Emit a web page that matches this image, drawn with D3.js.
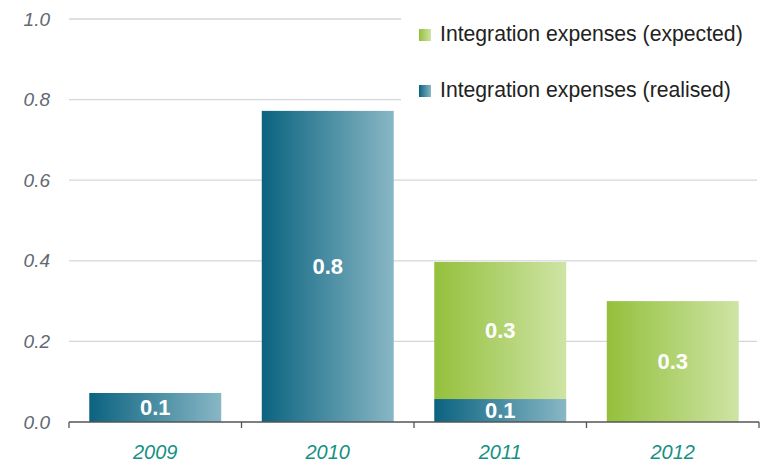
<!DOCTYPE html>
<html><head><meta charset="utf-8">
<script src="https://cdn.jsdelivr.net/npm/d3@7"></script>
<style>body{margin:0;background:#fff}svg{display:block}</style>
</head><body>
<svg id="c" width="762" height="462"></svg>
<script>
const years = ["2009", "2010", "2011", "2012"];
const realised = [0.072, 0.772, 0.057, 0];
const expected = [0, 0, 0.34, 0.30];
const realisedLabels = ["0.1", "0.8", "0.1", ""];
const expectedLabels = ["", "", "0.3", "0.3"];
const yTicks = [0, 0.2, 0.4, 0.6, 0.8, 1.0];
const seriesNames = ["Integration expenses (expected)", "Integration expenses (realised)"];

const svg = d3.select("#c");
const x = d3.scaleBand().domain(years).range([69, 759]).paddingInner(0.235).paddingOuter(0.1175);
const y = d3.scaleLinear().domain([0, 1]).range([422, 19]);

const defs = svg.append("defs");
function grad(id, c0, c1) {
  const g = defs.append("linearGradient").attr("id", id).attr("x1", "0%").attr("x2", "100%").attr("y1", "0").attr("y2", "0");
  g.append("stop").attr("offset", "0%").attr("stop-color", c0);
  g.append("stop").attr("offset", "100%").attr("stop-color", c1);
}
grad("gBlue", "#0b6380", "#88b7c5");
grad("gGreen", "#94c03c", "#cee4a5");

// gridlines
svg.append("g").selectAll("line").data(yTicks.filter(d => d > 0)).join("line")
  .attr("x1", 69).attr("x2", 757).attr("y1", d => y(d)).attr("y2", d => y(d))
  .attr("stroke", "#d3d7da").attr("stroke-width", 1.3);

// y labels
svg.append("g").selectAll("text").data(yTicks).join("text")
  .attr("x", 50).attr("y", d => y(d)).attr("dy", "0.35em")
  .attr("text-anchor", "end").attr("font-family", "Liberation Sans, Arial, sans-serif")
  .attr("font-style", "italic").attr("font-size", 19).attr("fill", "#5f6a72")
  .text(d => d3.format(".1f")(d));

// bars realised
svg.append("g").selectAll("rect").data(years.map((yr, i) => ({yr, v: realised[i]})).filter(d => d.v > 0)).join("rect")
  .attr("x", d => x(d.yr)).attr("width", x.bandwidth())
  .attr("y", d => y(d.v)).attr("height", d => y(0) - y(d.v))
  .attr("fill", "url(#gBlue)");
// bars expected
svg.append("g").selectAll("rect").data(years.map((yr, i) => ({yr, b: realised[i], v: expected[i]})).filter(d => d.v > 0)).join("rect")
  .attr("x", d => x(d.yr)).attr("width", x.bandwidth())
  .attr("y", d => y(d.b + d.v)).attr("height", d => y(d.b) - y(d.b + d.v))
  .attr("fill", "url(#gGreen)");

// axis
const xAxis = svg.append("g").attr("transform", "translate(0,422)");
xAxis.append("line").attr("x1", 69).attr("x2", 759).attr("stroke", "#555").attr("stroke-width", 1.3);
const bounds = years.map(d => x(d) - x.step() * x.paddingOuter()).concat([759]);
xAxis.selectAll("line.t").data(bounds).join("line").attr("class", "t")
  .attr("x1", d => d).attr("x2", d => d).attr("y1", 0).attr("y2", 6)
  .attr("stroke", "#555").attr("stroke-width", 1.3);
xAxis.selectAll("text").data(years).join("text")
  .attr("x", d => x(d) + x.bandwidth() / 2).attr("y", 37)
  .attr("text-anchor", "middle").attr("font-family", "Liberation Sans, Arial, sans-serif")
  .attr("font-style", "italic").attr("font-size", 20).attr("fill", "#169083")
  .text(d => d);

// data labels
const lab = svg.append("g").attr("font-family", "Liberation Sans, Arial, sans-serif")
  .attr("font-weight", "bold").attr("font-size", 22).attr("fill", "#fff").attr("text-anchor", "middle");
years.forEach((yr, i) => {
  if (realisedLabels[i]) lab.append("text").attr("x", x(yr) + x.bandwidth() / 2)
    .attr("y", (y(0) + y(realised[i])) / 2).attr("dy", "0.36em").text(realisedLabels[i]);
  if (expectedLabels[i]) lab.append("text").attr("x", x(yr) + x.bandwidth() / 2)
    .attr("y", (y(realised[i]) + y(realised[i] + expected[i])) / 2).attr("dy", "0.36em").text(expectedLabels[i]);
});

// legend
const leg = svg.append("g");
leg.append("rect").attr("x", 401).attr("y", 8).attr("width", 361).attr("height", 104).attr("fill", "#fff");
const legFills = ["url(#gGreen)", "url(#gBlue)"];
seriesNames.forEach((s, i) => {
  const yy = 29 + i * 56;
  leg.append("rect").attr("x", 419).attr("y", yy).attr("width", 12).attr("height", 12).attr("fill", legFills[i]);
  leg.append("text").attr("x", 440).attr("y", yy + 12).attr("font-family", "Liberation Sans, Arial, sans-serif")
    .attr("font-size", 21.2).attr("fill", "#222").text(s);
});
</script>
</body></html>
